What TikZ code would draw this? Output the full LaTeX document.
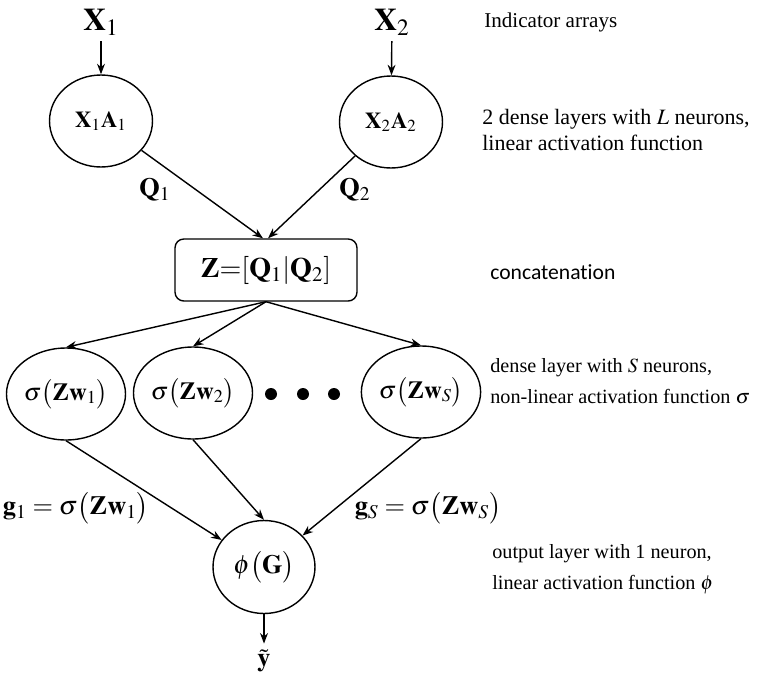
\documentclass[tikz,border=0pt]{standalone}
\usepackage{mathptmx}
\usepackage{fontspec}
\setmainfont{Liberation Serif}
\newfontfamily\calfont[Ligatures=NoCommon]{Carlito}
\usetikzlibrary{arrows.meta,positioning,calc,shapes.geometric}

\begin{document}
\begin{tikzpicture}[x=0.02cm,y=-0.02cm,>={Stealth[length=6pt,width=4.5pt]},
    neuron/.style={draw,ellipse,line width=0.8pt,minimum width=2.06cm,minimum height=1.84cm,inner sep=0pt,font=\fontsize{14}{16}\selectfont},
    concat/.style={draw,rounded corners=5pt,line width=0.8pt,minimum width=3.64cm,minimum height=1.24cm,font=\fontsize{16}{18}\selectfont},
    note/.style={anchor=west,align=left,inner xsep=0pt,font=\fontsize{11.5}{17.5}\selectfont},
    lbl/.style={font=\fontsize{15}{17}\selectfont},
    link/.style={->,line width=0.8pt}]
    \useasboundingbox (0,0) rectangle (764,683);
    % inputs and first layer
    \node[font=\fontsize{18}{20}\selectfont] (xone) at (101,22) {$\mathbf{X}_1$};
    \node[font=\fontsize{18}{20}\selectfont] (xtwo) at (392,22) {$\mathbf{X}_2$};
    \node[neuron,font=\fontsize{13}{15}\selectfont] (aone) at (101,121) {$\mathbf{X}_1\mathbf{A}_1$};
    \node[neuron,font=\fontsize{13}{15}\selectfont] (atwo) at (391,122) {$\mathbf{X}_2\mathbf{A}_2$};
    \node[concat] (z) at (266,270) {$\mathbf{Z}{=}[\mathbf{Q}_1|\mathbf{Q}_2]$};
    \node[lbl] (qone) at (155,190) {$\mathbf{Q}_1$};
    \node[lbl] (qtwo) at (355,190) {$\mathbf{Q}_2$};
    % hidden layer
    \node[neuron] (sone) at (66,394) {$\sigma\big(\mathbf{Zw}_1\big)$};
    \node[neuron] (stwo) at (193,393) {$\sigma\big(\mathbf{Zw}_2\big)$};
    \node[neuron] (sess) at (421,392) {$\sigma\big(\mathbf{Zw}_S\big)$};
    \foreach \dx in {271,303,334}\fill (\dx,394) circle (0.12cm);
    \node[lbl] (gone) at (76,508) {$\mathbf{g}_1=\sigma\big(\mathbf{Zw}_1\big)$};
    \node[lbl] (gess) at (428,508) {$\mathbf{g}_S=\sigma\big(\mathbf{Zw}_S\big)$};
    % output
    \node[neuron,minimum width=2.04cm,minimum height=1.86cm,font=\fontsize{15}{17}\selectfont] (out) at (264,567) {$\phi\big(\mathbf{G}\big)$};
    \node[font=\fontsize{15}{17}\selectfont] (yhat) at (264,661) {$\tilde{\mathbf{y}}$};
    % connectors
    \draw[link] (xone) -- (aone);
    \draw[link] (xtwo) -- (atwo);
    \draw[link] (aone) -- ($(z.north)+(-3,0)$);
    \draw[link] (atwo) -- ($(z.north)+(2,0)$);
    \foreach \n in {sone,stwo,sess}\draw[link] (z.south) -- (\n.north);
    \draw[link] (sone.south) -- (out);
    \draw[link] (stwo.south) -- (out.north);
    \draw[link] (sess.south) -- (out);
    \draw[link] (out) -- (yhat);
    % descriptions
    \node[note,font=\fontsize{12}{17}\selectfont] (nin) at (484,22) {Indicator arrays};
    \node[note,font=\fontsize{12.5}{15}\selectfont] (nden) at (482,130) {2 dense layers with $L$ neurons,\\linear activation function};
    \node[note,font=\calfont\fontsize{12.3}{14}\selectfont] (ncat) at (490,272) {concatenation};
    \node[note] (nhid) at (490,381) {dense layer with $S$ neurons,\\non-linear activation function $\sigma$};
    \node[note] (nout) at (492,569) {output layer with 1 neuron,\\linear activation function $\phi$};
\end{tikzpicture}
\end{document}
